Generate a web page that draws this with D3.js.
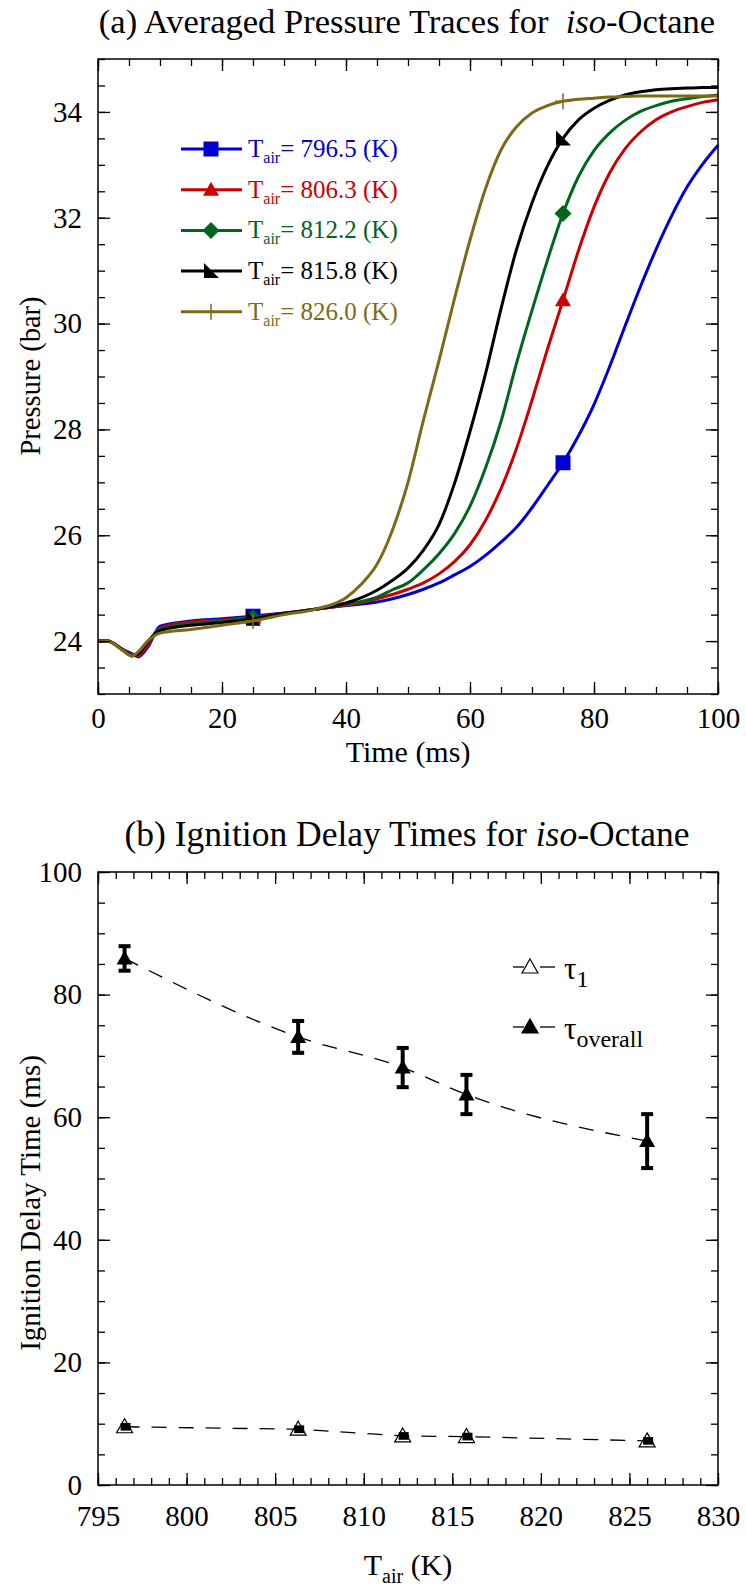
<!DOCTYPE html>
<html>
<head>
<meta charset="utf-8">
<script src="https://cdn.jsdelivr.net/npm/d3@7"></script>
<style>
  body { margin: 0; background: #fff; }
  svg, svg text { font-family: "Liberation Serif", "Times New Roman", serif; }
</style>
</head>
<body>
<div id="chart"></div>
<script>
// ---- (a) averaged pressure traces ----
const timeMs = [0, 1.5, 4, 5.5, 6.5, 8, 10, 15, 20, 25, 30, 35, 40, 42.5, 45, 47.5, 50, 52.5, 55, 57.5,
    60, 62.5, 65, 67.5, 70, 72.5, 75, 77.5, 80, 82.5, 85, 87.5, 90, 92.5, 95, 97.5, 100];
const p796 = [24.0, 24.0, 23.84, 23.76, 23.70, 23.88, 24.28, 24.38, 24.42, 24.47, 24.53, 24.60, 24.67, 24.70, 24.74, 24.80, 24.88, 24.98, 25.10, 25.25,
    25.41, 25.62, 25.87, 26.15, 26.52, 26.94, 27.37, 27.88, 28.47, 29.18, 29.95, 30.70, 31.40, 32.03, 32.58, 33.01, 33.37];
const p806 = [24.0, 24.0, 23.84, 23.74, 23.72, 23.92, 24.25, 24.36, 24.40, 24.45, 24.52, 24.60, 24.68, 24.73, 24.80, 24.88, 24.98, 25.10, 25.27, 25.50,
    25.82, 26.28, 26.88, 27.64, 28.55, 29.52, 30.44, 31.38, 32.20, 32.84, 33.30, 33.62, 33.85, 34.00, 34.10, 34.18, 34.23];
const p812 = [24.0, 24.0, 23.84, 23.73, 23.75, 23.98, 24.22, 24.33, 24.38, 24.44, 24.52, 24.60, 24.70, 24.75, 24.83, 24.97, 25.10, 25.35, 25.65, 26.03,
    26.55, 27.27, 28.15, 29.25, 30.25, 31.20, 32.08, 32.78, 33.27, 33.60, 33.84, 34.01, 34.12, 34.20, 34.25, 34.29, 34.32];
const p815 = [24.0, 24.0, 23.83, 23.72, 23.76, 23.98, 24.20, 24.30, 24.35, 24.42, 24.52, 24.60, 24.72, 24.82, 24.96, 25.15, 25.38, 25.72, 26.20, 26.98,
    27.96, 29.05, 30.28, 31.40, 32.28, 32.98, 33.50, 33.85, 34.07, 34.22, 34.32, 34.38, 34.42, 34.44, 34.45, 34.46, 34.46];
const p826 = [24.0, 24.0, 23.82, 23.72, 23.80, 24.00, 24.15, 24.22, 24.30, 24.38, 24.50, 24.60, 24.82, 25.08, 25.45, 26.10, 27.00, 28.18, 29.30, 30.47,
    31.58, 32.55, 33.28, 33.72, 33.98, 34.12, 34.20, 34.24, 34.26, 34.28, 34.29, 34.30, 34.30, 34.30, 34.30, 34.30, 34.30];
const tempLabels = ["796.5", "806.3", "812.2", "815.8", "826.0"];
const markerTimes = [25, 75];
const xTicksA = [0, 20, 40, 60, 80, 100];
const yTicksA = [24, 26, 28, 30, 32, 34];

// ---- (b) ignition delay times ----
const tAir = [796.5, 806.3, 812.2, 815.8, 826.0];
const tauOverall = [85.9, 73.1, 68.1, 63.7, 56.1];
const tauOverallErr = [2.0, 2.6, 3.2, 3.2, 4.4];
const tau1 = [9.5, 9.1, 8.0, 7.9, 7.2];
const tau1Err = [0.3, 0.3, 0.3, 0.3, 0.3];
const xTicksB = [795, 800, 805, 810, 815, 820, 825, 830];
const yTicksB = [0, 20, 40, 60, 80, 100];

const FONT = '"Liberation Serif", "Times New Roman", serif';
const W = 746, H = 1587;

const svg = d3.select("#chart").append("svg")
    .attr("width", W)
    .attr("height", H)
    .attr("font-family", FONT);
svg.append("rect").attr("width", W).attr("height", H).attr("fill", "#fff");

function markerPath(type) {
    switch (type) {
        case "square": return "M-7.5,-7.5h15v15h-15Z";
        case "triangle": return "M0,-8L8,6L-8,6Z";
        case "diamond": return "M0,-8.5L8.5,0L0,8.5L-8.5,0Z";
        case "corner": return "M-7,-8L-7,7L8,7Z";
        case "plus": return "M0,-8V8M-8,0H8";
    }
}

// frame with inward ticks on all four sides
function drawFrame(g, x, y, opt) {
    const w = x.range()[1] - x.range()[0];
    const h = y.range()[0] - y.range()[1];
    const fix = sel => {
        sel.select(".domain").remove();
        sel.attr("font-family", FONT).attr("font-size", 29);
        sel.selectAll("line").attr("stroke-width", 1.3);
        sel.selectAll("text").attr("fill", "#000").attr("font-family", FONT);
    };
    const sides = [
        { axis: d3.axisBottom, scale: x, tf: `translate(0,${h})`, major: opt.xMajor, minor: opt.xMinor, lab: true, pad: opt.xPad },
        { axis: d3.axisTop, scale: x, tf: "translate(0,0)", major: opt.xMajor, minor: opt.xMinor, lab: false },
        { axis: d3.axisLeft, scale: y, tf: "translate(0,0)", major: opt.yMajor, minor: opt.yMinor, lab: true, pad: 16 },
        { axis: d3.axisRight, scale: y, tf: `translate(${w},0)`, major: opt.yMajor, minor: opt.yMinor, lab: false }
    ];
    sides.forEach(s => {
        g.append("g").attr("transform", s.tf)
            .call(s.axis(s.scale).tickValues(s.minor).tickSize(-7).tickFormat(""))
            .call(fix);
        const ax = s.axis(s.scale).tickValues(s.major).tickSize(-12).tickSizeOuter(0);
        if (s.lab) ax.tickPadding(s.pad); else ax.tickFormat("");
        g.append("g").attr("transform", s.tf).call(ax).call(fix);
    });
    g.append("rect")
        .attr("width", w).attr("height", h)
        .attr("fill", "none").attr("stroke", "#000").attr("stroke-width", 1.5);
}

function drawMarker(g, s, cx, cy) {
    const p = g.append("path")
        .attr("d", markerPath(s.marker))
        .attr("transform", `translate(${cx},${cy})`);
    if (s.marker === "plus") {
        p.attr("fill", "none").attr("stroke", s.color).attr("stroke-width", 1.5);
    } else {
        p.attr("fill", s.color);
    }
}

// ================= chart (a) =================
const xA = d3.scaleLinear().domain([0, 100]).range([98, 718]);
const yA = d3.scaleLinear().domain([23, 35]).range([694, 59]);

const gA = svg.append("g");

const titleA = svg.append("text")
    .attr("x", 407).attr("y", 33)
    .attr("text-anchor", "middle").attr("font-size", 34.5)
    .style("white-space", "pre");
titleA.append("tspan").text("(a) Averaged Pressure Traces for  ");
titleA.append("tspan").attr("font-style", "italic").text("iso");
titleA.append("tspan").text("-Octane");

const seriesA = [
    { label: tempLabels[0], values: p796, color: "#0000d0", marker: "square" },
    { label: tempLabels[1], values: p806, color: "#cc0000", marker: "triangle" },
    { label: tempLabels[2], values: p812, color: "#00661e", marker: "diamond" },
    { label: tempLabels[3], values: p815, color: "#000000", marker: "corner" },
    { label: tempLabels[4], values: p826, color: "#7d6a17", marker: "plus" }
];

const lineA = d3.line()
    .x((d, i) => xA(timeMs[i]))
    .y(d => yA(d))
    .curve(d3.curveMonotoneX);

const plotA = gA.append("g");
seriesA.forEach(s => {
    plotA.append("path")
        .attr("d", lineA(s.values))
        .attr("fill", "none")
        .attr("stroke", s.color)
        .attr("stroke-width", 3);
    markerTimes.forEach(t => {
        const v = s.values[timeMs.indexOf(t)];
        drawMarker(plotA, s, xA(t), yA(v));
    });
});

const frameA = gA.append("g").attr("transform", `translate(${xA.range()[0]},${yA.range()[1]})`);
drawFrame(frameA,
    d3.scaleLinear().domain(xA.domain()).range([0, 620]),
    d3.scaleLinear().domain(yA.domain()).range([635, 0]),
    {
        xMajor: xTicksA, xMinor: d3.range(0, 101, 5),
        yMajor: yTicksA, yMinor: d3.range(23, 35.01, 0.5),
        xPad: 13
    });

// legend (a)
seriesA.forEach((s, i) => {
    const ly = 149 + i * 40.7;
    const lg = gA.append("g");
    lg.append("line")
        .attr("x1", 181).attr("x2", 242).attr("y1", ly).attr("y2", ly)
        .attr("stroke", s.color).attr("stroke-width", 3);
    drawMarker(lg, s, 211, ly);
    const t = lg.append("text")
        .attr("x", 248).attr("y", ly + 8)
        .attr("font-size", 25).attr("fill", s.color);
    t.append("tspan").text("T");
    t.append("tspan").attr("font-size", 16).attr("dy", 6).text("air");
    t.append("tspan").attr("dy", -6).text(`= ${s.label} (K)`);
});

svg.append("text")
    .attr("x", 408).attr("y", 762)
    .attr("text-anchor", "middle").attr("font-size", 30)
    .text("Time (ms)");

svg.append("text")
    .attr("transform", "translate(40,376) rotate(-90)")
    .attr("text-anchor", "middle").attr("font-size", 28.5)
    .text("Pressure (bar)");

// ================= chart (b) =================
const xB = d3.scaleLinear().domain([795, 830]).range([98, 718]);
const yB = d3.scaleLinear().domain([0, 100]).range([1485, 872]);

const gB = svg.append("g");

const titleB = svg.append("text")
    .attr("x", 407).attr("y", 846)
    .attr("text-anchor", "middle").attr("font-size", 35.5);
titleB.append("tspan").text("(b) Ignition Delay Times for ");
titleB.append("tspan").attr("font-style", "italic").text("iso");
titleB.append("tspan").text("-Octane");

const dashed = "15,12";

// tau_overall trend line
gB.append("path")
    .attr("d", d3.line().x((d, i) => xB(tAir[i])).y(d => yB(d)).curve(d3.curveMonotoneX)(tauOverall))
    .attr("fill", "none").attr("stroke", "#000").attr("stroke-width", 1.3)
    .attr("stroke-dasharray", dashed);

// tau_1 trend line
gB.append("path")
    .attr("d", d3.line().x((d, i) => xB(tAir[i])).y(d => yB(d))(tau1))
    .attr("fill", "none").attr("stroke", "#000").attr("stroke-width", 1.3)
    .attr("stroke-dasharray", dashed);

function errorBar(g, cx, lo, hi, capW) {
    g.append("line").attr("x1", cx).attr("x2", cx).attr("y1", yB(lo)).attr("y2", yB(hi))
        .attr("stroke", "#000").attr("stroke-width", 4);
    [lo, hi].forEach(v => {
        g.append("line").attr("x1", cx - capW / 2).attr("x2", cx + capW / 2).attr("y1", yB(v)).attr("y2", yB(v))
            .attr("stroke", "#000").attr("stroke-width", 4);
    });
}

tAir.forEach((t, i) => {
    errorBar(gB, xB(t), tauOverall[i] - tauOverallErr[i], tauOverall[i] + tauOverallErr[i], 12);
    gB.append("path")
        .attr("d", markerPath("triangle"))
        .attr("transform", `translate(${xB(t)},${yB(tauOverall[i])})`)
        .attr("fill", "#000");
});

tAir.forEach((t, i) => {
    gB.append("path")
        .attr("d", markerPath("triangle"))
        .attr("transform", `translate(${xB(t)},${yB(tau1[i])})`)
        .attr("fill", "#fff").attr("stroke", "#000").attr("stroke-width", 1.2);
    errorBar(gB, xB(t) + 1, tau1[i] - tau1Err[i], tau1[i] + tau1Err[i], 10);
});

const frameB = gB.append("g").attr("transform", `translate(${xB.range()[0]},${yB.range()[1]})`);
drawFrame(frameB,
    d3.scaleLinear().domain(xB.domain()).range([0, 620]),
    d3.scaleLinear().domain(yB.domain()).range([613, 0]),
    {
        xMajor: xTicksB, xMinor: d3.range(795, 831, 1),
        yMajor: yTicksB, yMinor: d3.range(0, 101, 5),
        xPad: 20
    });

// legend (b)
const legendB = [
    { sub: "1", fill: "#fff" },
    { sub: "overall", fill: "#000" }
];
legendB.forEach((d, i) => {
    const ly = 967 + i * 60;
    [[513, 524], [540, 555]].forEach(([a, b]) => {
        gB.append("line")
            .attr("x1", a).attr("x2", b).attr("y1", ly).attr("y2", ly)
            .attr("stroke", "#000").attr("stroke-width", 1.3);
    });
    gB.append("path")
        .attr("d", markerPath("triangle"))
        .attr("transform", `translate(530,${ly})`)
        .attr("fill", d.fill).attr("stroke", "#000").attr("stroke-width", 1.2);
    const t = gB.append("text").attr("x", 564).attr("y", ly + 12).attr("font-size", 31);
    t.append("tspan").text("τ");
    t.append("tspan").attr("font-size", 24).attr("dy", 8).text(d.sub);
});

const xLabB = svg.append("text")
    .attr("x", 408).attr("y", 1575)
    .attr("text-anchor", "middle").attr("font-size", 30);
xLabB.append("tspan").text("T");
xLabB.append("tspan").attr("font-size", 20).attr("dy", 8).text("air");
xLabB.append("tspan").attr("dy", -8).text(" (K)");

svg.append("text")
    .attr("transform", "translate(40,1203) rotate(-90)")
    .attr("text-anchor", "middle").attr("font-size", 29)
    .text("Ignition Delay Time (ms)");
</script>
</body>
</html>
